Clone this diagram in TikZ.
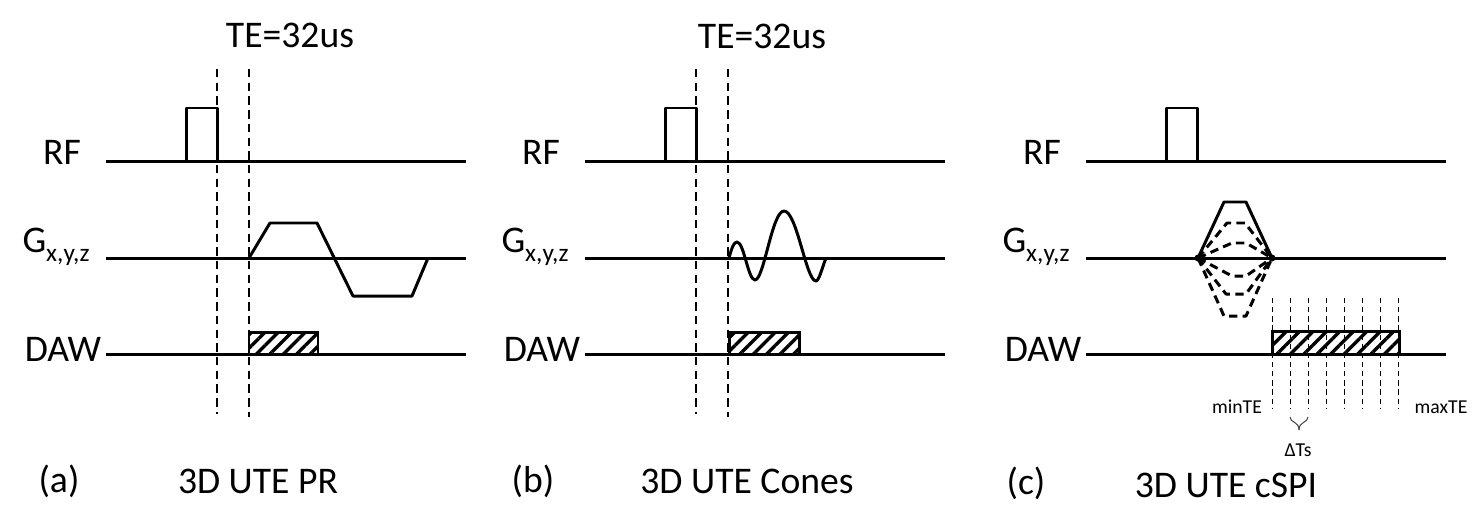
\documentclass[tikz,border=0pt]{standalone}
\usepackage{fontspec}
\setmainfont{Carlito}
\usetikzlibrary{patterns.meta}
\begin{document}
\begin{tikzpicture}[
  x=0.01cm, y=-0.01cm,
  trace/.style={line width=0.85pt, line join=round},
  lobe/.style={line width=0.85pt, line join=round, dash pattern=on 2.4pt off 1.5pt},
  echoline/.style={line width=0.65pt, dash pattern=on 2.4pt off 1.5pt},
  sampleline/.style={line width=0.22pt, dash pattern=on 1.5pt off 1.1pt},
  hatchbox/.style={line width=0.85pt, pattern={Lines[angle=45, distance=2.7pt, line width=0.95pt]}},
  biglabel/.style={inner sep=0pt, font=\fontsize{10.7pt}{12pt}\selectfont},
  smalllabel/.style={inner sep=0pt, font=\fontsize{5.6pt}{7pt}\selectfont}
]
  \useasboundingbox (0,0) rectangle (1484,530);

  % the three rows of each panel
  \foreach \id/\xs/\lab/\capx/\capy in {a/0/(a)/59/481, b/479/(b)/533/481, c/980/(c)/1026/483} {
    \coordinate (rf\id s) at (106+\xs,161.5);
    \coordinate (rf\id e) at (466+\xs,161.5);
    \coordinate (g\id s) at (106+\xs,258);
    \coordinate (g\id e) at (466+\xs,258);
    \coordinate (daw\id s) at (106+\xs,354);
    \coordinate (daw\id e) at (466+\xs,354);
    \draw[trace] (rf\id s) -- (rf\id e);
    \draw[trace] (g\id s) -- (g\id e);
    \draw[trace] (daw\id s) -- (daw\id e);
    \node[biglabel] (rflabel\id) at (62+\xs,152) {RF};
    \node[biglabel] (glabel\id) at (56+\xs,247) {G\raisebox{-0.5ex}{\fontsize{7.2pt}{8pt}\selectfont x,y,z}};
    \node[biglabel] (dawlabel\id) at (63+\xs,349) {DAW};
    \node[biglabel] (panel\id) at (\capx,\capy) {\lab};
  }
  \node[biglabel] (namea) at (258,481) {3D UTE PR};
  \node[biglabel] (nameb) at (747,481) {3D UTE Cones};
  \node[biglabel] (namec) at (1226,485) {3D UTE cSPI};
  \node[biglabel] (tea) at (290,35) {TE=32us};
  \node[biglabel] (teb) at (762,36) {TE=32us};

  % RF pulses
  \foreach \xs in {0,479,980} {
    \draw[trace] (186.5+\xs,161.5) -- (186.5+\xs,108) -- (217.5+\xs,108) -- (217.5+\xs,161.5);
  }

  % TE markers
  \foreach \xs in {0,479} {
    \draw[echoline] (217+\xs,69) -- (217+\xs,414);
    \draw[echoline] (249+\xs,69) -- (249+\xs,417);
  }

  % panel a
  \draw[trace] (249,258) -- (270,223) -- (317,223) -- (353,296) -- (412,296) -- (428,258);
  \draw[hatchbox] (249,354) rectangle (318,332);

  % panel b
  \draw[trace] (729,258) .. controls (732,247) and (734,242) .. (737,242)
    .. controls (744,242) and (748,280) .. (755,280)
    .. controls (764,280) and (772,211) .. (784,211)
    .. controls (797,211) and (806,281) .. (816,281)
    .. controls (819,281) and (822,268) .. (826,258);
  \draw[hatchbox] (729,354) rectangle (799,332);

  % panel c
  \draw[trace] (1198,258) -- (1224,202) -- (1246,202) -- (1272,258);
  \foreach \ytop/\xa/\xb in {223/1227/1245, 243/1232/1246, 276/1232/1246, 294/1226/1246, 316/1224/1246} {
    \draw[lobe] (1198,258) -- (\xa,\ytop) -- (\xb,\ytop) -- (1272,258);
  }
  \fill (1198,258) circle (3.5);
  \fill (1272,258) circle (3.5);
  \draw[hatchbox] (1272,354) rectangle (1399,331);
  \foreach \xi in {0,...,7} {
    \draw[sampleline] (1272+18*\xi,298) -- (1272+18*\xi,408);
  }
  \node[smalllabel] (minte) at (1237,407) {minTE};
  \node[smalllabel] (maxte) at (1441,407) {maxTE};
  \node[smalllabel] (dts) at (1298,450) {ΔTs};
  \draw[line width=0.3pt, black!70] (1290,417) .. controls (1290,423) and (1299,421) .. (1299,430);
  \draw[line width=0.3pt, black!70] (1308,417) .. controls (1308,423) and (1299,421) .. (1299,430);
\end{tikzpicture}
\end{document}
